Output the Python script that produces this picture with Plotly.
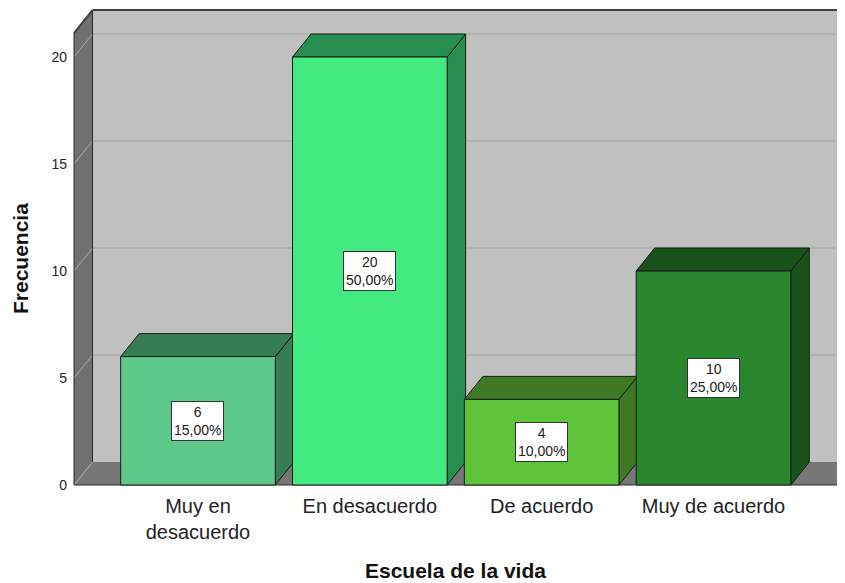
import plotly.graph_objects as go

# ---- data ----
categories = ["Muy en<br>desacuerdo", "En desacuerdo", "De acuerdo", "Muy de acuerdo"]
counts = [6, 20, 4, 10]
front_colors = ["#5CC98B", "#42EA7F", "#5EC43A", "#28872C"]
depth_colors = ["#387C55", "#268F4F", "#3D7A23", "#1A521B"]
y_ticks = [0, 5, 10, 15, 20]

# ---- layout constants (3D box geometry in data units) ----
OFF = 8                      # page body margin offset
W, H = 845 - OFF, 583 - OFF  # figure size so it fills the window
SX = 171.83          # px per category unit
SY = 21.4            # px per frequency unit
DX = 18.5 / SX       # depth offset in x
DY = 23.0 / SY       # depth offset in y
X_LEFT = -0.7216
X_RIGHT = 3.7216
TOP_FRONT = 21.12
TOP_BACK = TOP_FRONT + DY
BAR_W = 0.9

# pixel positions in the window, converted to figure pixels
L_PX, T_PX, BOT_PX = 70 - OFF, 8 - OFF, 488 - OFF
ZERO_PX = 485 - OFF
LEFT_WALL_PX = 74 - OFF

x_min = X_LEFT - (LEFT_WALL_PX - L_PX) / SX
x_max = x_min + (W - L_PX) / SX
y_min = -(BOT_PX - ZERO_PX) / SY
y_max = y_min + (BOT_PX - T_PX) / SY

total = sum(counts)
xs = list(range(len(categories)))

fig = go.Figure()
fig.add_trace(go.Bar(
    x=xs, y=counts, width=BAR_W,
    marker=dict(color=front_colors, line=dict(color="#1a1a1a", width=1)),
    hoverinfo="skip", showlegend=False,
))

def poly(pts):
    return "M " + " L ".join(f"{px} {py}" for px, py in pts) + " Z"

shapes = []
# back wall
shapes.append(dict(type="path", xref="x", yref="y", layer="below",
                   path=poly([(X_LEFT + DX, DY), (X_RIGHT + DX + 0.5, DY),
                              (X_RIGHT + DX + 0.5, TOP_BACK), (X_LEFT + DX, TOP_BACK)]),
                   fillcolor="#C0C0C0", line=dict(width=0)))
# back wall gridlines
for v in y_ticks[1:]:
    shapes.append(dict(type="line", xref="x", yref="y", layer="below",
                       x0=X_LEFT + DX, x1=X_RIGHT + DX + 0.5, y0=v + DY, y1=v + DY,
                       line=dict(color="#B2B2B2", width=2)))
# left wall
shapes.append(dict(type="path", xref="x", yref="y", layer="below",
                   path=poly([(X_LEFT, 0), (X_LEFT + DX, DY), (X_LEFT + DX, TOP_BACK), (X_LEFT, TOP_FRONT)]),
                   fillcolor="#707070", line=dict(width=0)))
# floor
shapes.append(dict(type="path", xref="x", yref="y", layer="below",
                   path=poly([(X_LEFT, 0), (X_RIGHT, 0), (X_RIGHT + DX, DY), (X_LEFT + DX, DY)]),
                   fillcolor="#777777", line=dict(width=0)))
# left wall diagonal gridlines
for v in y_ticks:
    shapes.append(dict(type="line", xref="x", yref="y", layer="below",
                       x0=X_LEFT, y0=v, x1=X_LEFT + DX, y1=v + DY,
                       line=dict(color="#ABABAB", width=1)))
# edges
edge = dict(color="#2a2a2a", width=1)
shapes += [
    dict(type="line", xref="x", yref="y", layer="below", x0=X_LEFT, y0=0, x1=X_LEFT, y1=TOP_FRONT, line=edge),
    dict(type="line", xref="x", yref="y", layer="below", x0=X_LEFT + DX, y0=DY, x1=X_LEFT + DX, y1=TOP_BACK, line=edge),
    dict(type="line", xref="x", yref="y", layer="below", x0=X_LEFT, y0=TOP_FRONT, x1=X_LEFT + DX, y1=TOP_BACK, line=dict(color="#404040", width=2)),
    dict(type="line", xref="x", yref="y", layer="below", x0=X_LEFT + DX, y0=TOP_BACK, x1=X_RIGHT + DX + 0.5, y1=TOP_BACK, line=dict(color="#404040", width=2)),
    dict(type="line", xref="x", yref="y", layer="below", x0=X_LEFT, y0=0, x1=X_RIGHT, y1=0, line=edge),
    dict(type="line", xref="x", yref="y", layer="below", x0=X_RIGHT, y0=0, x1=X_RIGHT + DX, y1=DY, line=edge),
]
# bar tops and sides
for x, v, dc in zip(xs, counts, depth_colors):
    x0, x1 = x - BAR_W / 2, x + BAR_W / 2
    shapes.append(dict(type="path", xref="x", yref="y", layer="below",
                       path=poly([(x1, 0), (x1 + DX, DY), (x1 + DX, v + DY), (x1, v)]),
                       fillcolor=dc, line=dict(color="#1a1a1a", width=1)))
    shapes.append(dict(type="path", xref="x", yref="y", layer="below",
                       path=poly([(x0, v), (x1, v), (x1 + DX, v + DY), (x0 + DX, v + DY)]),
                       fillcolor=dc, line=dict(color="#1a1a1a", width=1)))

annotations = []
for x, v in zip(xs, counts):
    pct = f"{100 * v / total:.2f}".replace(".", ",") + "%"
    annotations.append(dict(x=x, y=v / 2, xref="x", yref="y", text=f"{v}<br>{pct}",
                            showarrow=False, bgcolor="white", bordercolor="#333333",
                            borderwidth=1, borderpad=2,
                            font=dict(family="Liberation Sans", size=14, color="#1a1a1a")))
# axis titles
annotations.append(dict(text="<b>Frecuencia</b>", textangle=-90, showarrow=False,
                        xref="paper", yref="y", x=(20 - OFF - L_PX) / (W - L_PX), y=TOP_FRONT / 2,
                        xanchor="center", yanchor="middle",
                        font=dict(family="Liberation Sans", size=21, color="#111111")))
annotations.append(dict(text="<b>Escuela de la vida</b>", showarrow=False,
                        xref="x", yref="paper", x=(X_LEFT + X_RIGHT) / 2,
                        y=-(570 - OFF - BOT_PX) / (BOT_PX - T_PX),
                        xanchor="center", yanchor="middle",
                        font=dict(family="Liberation Sans", size=21, color="#111111")))

fig.update_layout(
    width=W, height=H,
    margin=dict(l=L_PX, r=0, t=T_PX, b=H - BOT_PX, pad=0),
    paper_bgcolor="white", plot_bgcolor="white",
    shapes=shapes, annotations=annotations,
    bargap=0.1,
    xaxis=dict(range=[x_min, x_max], tickvals=xs, ticktext=categories,
               showgrid=False, zeroline=False, showline=False, ticks="",
               ticklabelstandoff=4, automargin=False,
               tickfont=dict(family="Liberation Sans", size=20, color="#222222")),
    yaxis=dict(range=[y_min, y_max], tickvals=y_ticks,
               showgrid=False, zeroline=False, showline=False, ticks="",
               ticklabelstandoff=2, automargin=False,
               tickfont=dict(family="Liberation Sans", size=14, color="#222222")),
)
fig.write_html("out.html")
